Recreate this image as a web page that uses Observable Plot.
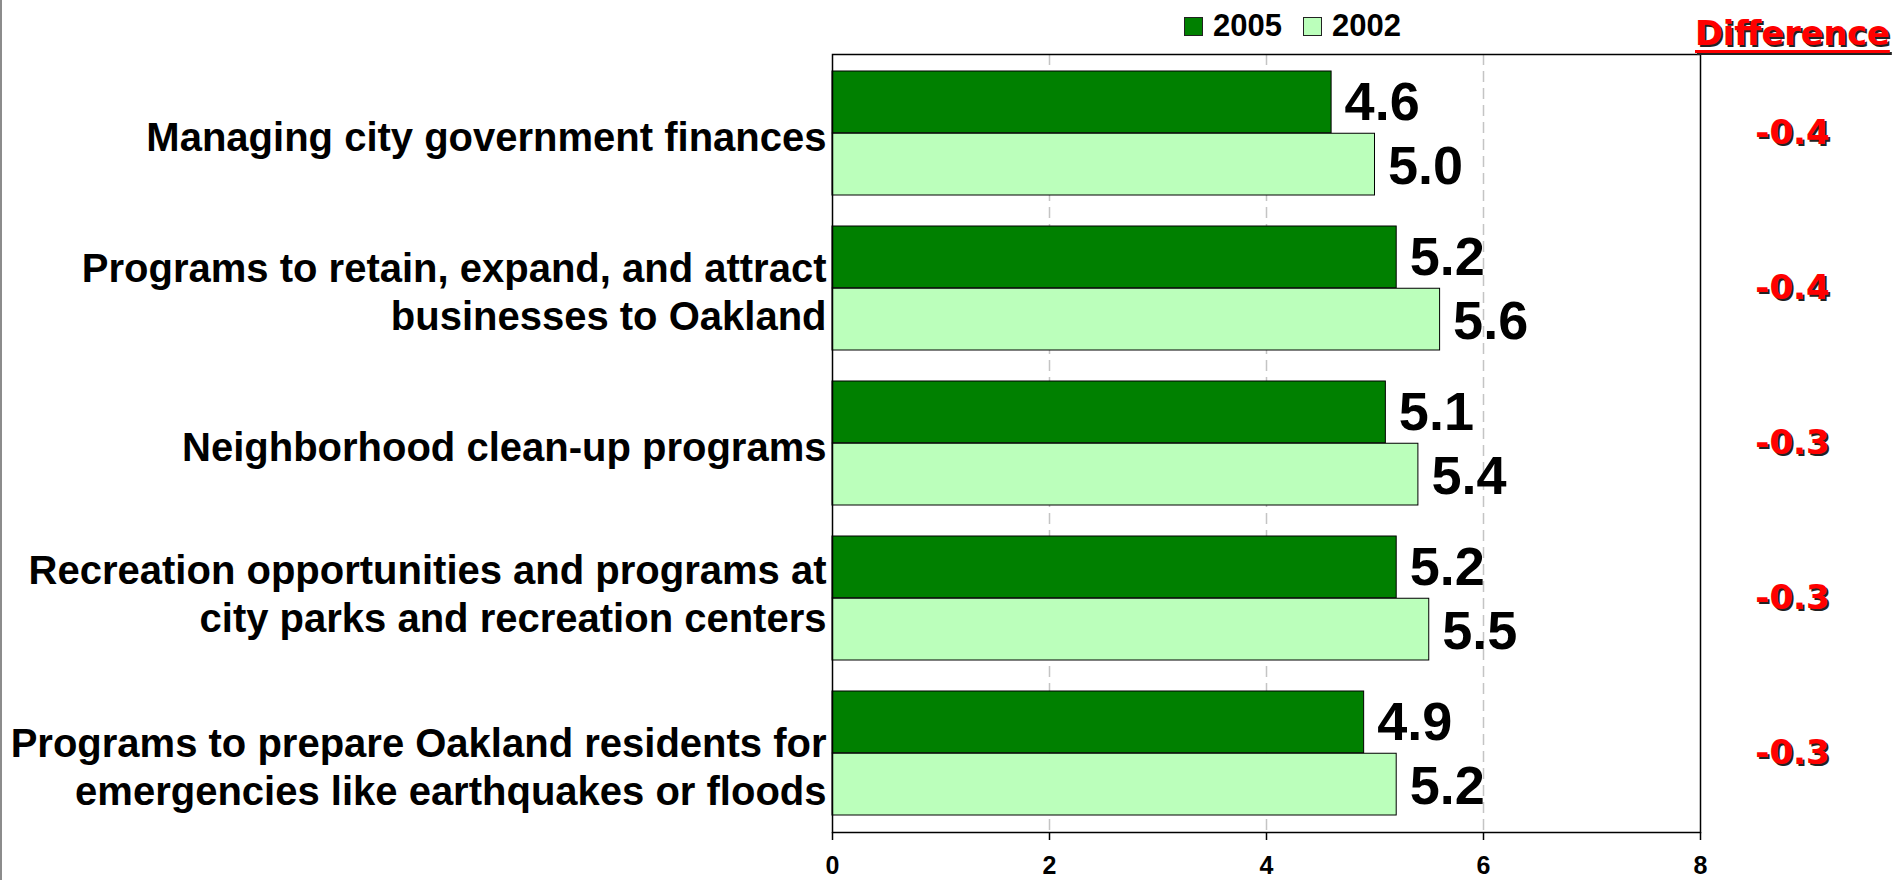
<!DOCTYPE html>
<html>
<head>
<meta charset="utf-8">
<script src="https://cdn.jsdelivr.net/npm/d3@7"></script>
<script src="https://cdn.jsdelivr.net/npm/@observablehq/plot@0.6"></script>
<style>
  html, body { margin: 0; padding: 0; background: #fff; }
  #wrap { position: relative; width: 1895px; height: 880px; overflow: hidden;
          font-family: "Liberation Sans", Arial, sans-serif; }
  #wrap::before { content: ""; position: absolute; left: 0; top: 0; bottom: 0; width: 2px;
          background: #8c8c8c; z-index: 3; }
  #legend { position: absolute; left: 1184px; top: 11px; display: flex; align-items: center;
          font-weight: bold; font-size: 31px; line-height: 30px; color: #000; z-index: 2; }
  #legend .sw { width: 17px; height: 17px; border: 1px solid #222; display: inline-block; margin-right: 10px; }
  #legend .item { display: flex; align-items: center; margin-right: 21px; }
  #diffhead { position: absolute; left: 1695px; top: 17px; font-family: "DejaVu Sans", sans-serif;
          font-weight: bold; font-size: 33.5px; line-height: 33px; color: #ff0000;
          text-decoration: underline; text-decoration-thickness: 3px; text-underline-offset: 5px;
          text-shadow: 2px 2px 0 #222; z-index: 2; white-space: nowrap; }
  #chart { position: absolute; left: 0; top: 0; }
</style>
</head>
<body>
<div id="wrap">
  <div id="legend"></div>
  <div id="diffhead">Difference</div>
  <div id="chart"></div>
</div>
<script>
// ---- Data ----
const categories = [
  "Managing city government finances",
  "Programs to retain, expand, and attract\nbusinesses to Oakland",
  "Neighborhood clean-up programs",
  "Recreation opportunities and programs at\ncity parks and recreation centers",
  "Programs to prepare Oakland residents for\nemergencies like earthquakes or floods"
];
const values2005 = [4.6, 5.2, 5.1, 5.2, 4.9];
const values2002 = [5.0, 5.6, 5.4, 5.5, 5.2];
const differences = [-0.4, -0.4, -0.3, -0.3, -0.3];
const years = ["2005", "2002"];
const yearColors = ["#008000", "#bbffbb"];
const xTicks = [0, 2, 4, 6, 8];
const headerText = "Difference";

// ---- Tables built from the arrays ----
const rows2005 = categories.map((c, i) => ({category: c, value: values2005[i]}));
const rows2002 = categories.map((c, i) => ({category: c, value: values2002[i]}));
const diffRows = categories.map((c, i) => ({category: c, diff: differences[i]}));

// ---- Legend (HTML, above the plot) ----
const legend = document.getElementById("legend");
years.forEach((y, i) => {
  const item = document.createElement("div");
  item.className = "item";
  const sw = document.createElement("span");
  sw.className = "sw";
  sw.style.background = yearColors[i];
  item.appendChild(sw);
  item.appendChild(document.createTextNode(y));
  legend.appendChild(item);
});
document.getElementById("diffhead").textContent = headerText;

const half = 62.25;
const yAxisStyle = {tickSize: 0, tickPadding: 6, fontSize: 40, fontWeight: "bold", lineHeight: 1.2,
                    label: null, tickFormat: d => d};

const chart = Plot.plot({
  width: 1895,
  height: 880,
  marginTop: 54,
  marginBottom: 48,
  marginLeft: 832,
  marginRight: 195,
  style: {fontFamily: '"Liberation Sans", Arial, sans-serif', background: "transparent", overflow: "visible", color: "#000"},
  x: {domain: [0, 8], ticks: xTicks, label: null},
  y: {domain: categories, paddingInner: 0.2, paddingOuter: 0.1, label: null},
  marks: [
    Plot.gridX(xTicks.slice(1, -1), {stroke: "#c4c4c4", strokeOpacity: 1, strokeWidth: 1.5, strokeDasharray: "11,6"}),
    Plot.barX(rows2005, {x: "value", y: "category", fill: yearColors[0], stroke: "#000", strokeWidth: 1, insetBottom: half}),
    Plot.barX(rows2002, {x: "value", y: "category", fill: yearColors[1], stroke: "#000", strokeWidth: 1, insetTop: half}),
    Plot.frame({stroke: "#000", strokeWidth: 1.5}),
    Plot.axisX({ticks: xTicks, tickSize: 8, tickPadding: 16, fontSize: 25, fontWeight: "bold",
                stroke: "#000", strokeWidth: 1.5, label: null, tickFormat: d => String(d)}),
    Plot.axisY({...yAxisStyle, ticks: categories.slice(0, 3), dy: 2}),
    Plot.axisY({...yAxisStyle, ticks: categories.slice(3, 4), dy: -6}),
    Plot.axisY({...yAxisStyle, ticks: categories.slice(4, 5), dy: 12}),
    Plot.text(rows2005, {x: "value", y: "category", text: d => d.value.toFixed(1), dx: 13, dy: -31,
                textAnchor: "start", fontSize: 54, fontWeight: "bold", fill: "#000"}),
    Plot.text(rows2002, {x: "value", y: "category", text: d => d.value.toFixed(1), dx: 13, dy: 33,
                textAnchor: "start", fontSize: 54, fontWeight: "bold", fill: "#000"}),
    Plot.text(diffRows, {y: "category", frameAnchor: "right", dx: 94, dy: 2, text: d => d.diff.toFixed(1),
                textAnchor: "middle", fontSize: 34, fontWeight: "bold", fontFamily: '"DejaVu Sans", sans-serif', fill: "#222"}),
    Plot.text(diffRows, {y: "category", frameAnchor: "right", dx: 92, dy: 0, text: d => d.diff.toFixed(1),
                textAnchor: "middle", fontSize: 34, fontWeight: "bold", fontFamily: '"DejaVu Sans", sans-serif', fill: "#ff0000"})
  ]
});
document.getElementById("chart").appendChild(chart);
</script>
</body>
</html>
